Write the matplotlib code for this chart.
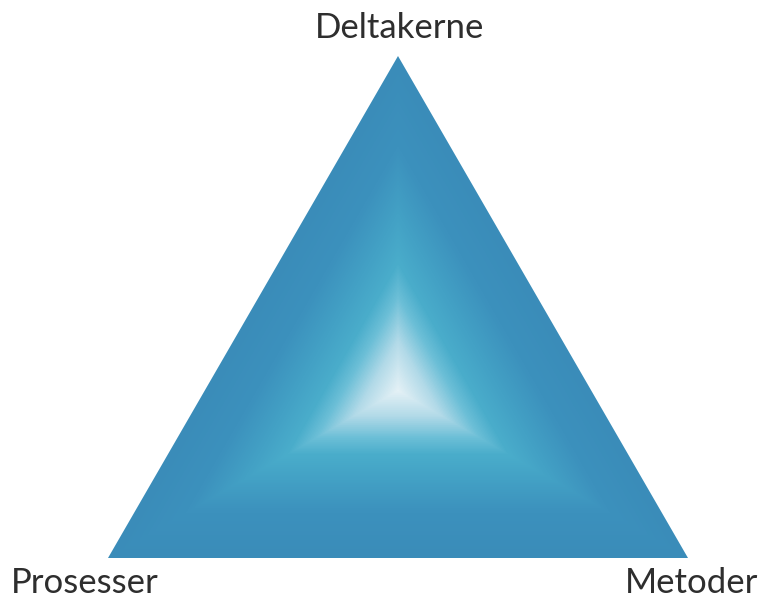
import numpy as np
import matplotlib
matplotlib.use("Agg")
import matplotlib.pyplot as plt
from matplotlib.colors import LinearSegmentedColormap
from matplotlib.patches import Polygon

# corner labels (top, bottom-left, bottom-right)
labels = ["Deltakerne", "Prosesser", "Metoder"]

# gradient stops: 0 = edge, 1 = centre
stop_pos = [0.0, 0.27, 0.47, 0.62, 0.72, 0.85, 1.0]
stop_col = ["#3a8cb9", "#3c91bd", "#43a1c5", "#4aadcb", "#6cbfd7", "#b2dae8", "#e4f1f6"]

W, H = 761, 600
corners = np.array([[398.0, 56.0], [108.0, 558.0], [688.0, 558.0]])

fig = plt.figure(figsize=(W / 100, H / 100), dpi=100)
ax = fig.add_axes([0, 0, 1, 1])
ax.set_xlim(0, W)
ax.set_ylim(H, 0)
ax.axis("off")

# barycentric coordinates on a pixel grid
xx, yy = np.meshgrid(np.arange(W) + 0.5, np.arange(H) + 0.5)
(x1, y1), (x2, y2), (x3, y3) = corners
det = (y2 - y3) * (x1 - x3) + (x3 - x2) * (y1 - y3)
l1 = ((y2 - y3) * (xx - x3) + (x3 - x2) * (yy - y3)) / det
l2 = ((y3 - y1) * (xx - x3) + (x1 - x3) * (yy - y3)) / det
l3 = 1 - l1 - l2
t = np.clip(3 * np.minimum(np.minimum(l1, l2), l3), 0, 1)

cmap = LinearSegmentedColormap.from_list("tri", list(zip(stop_pos, stop_col)))
im = ax.imshow(t, cmap=cmap, vmin=0, vmax=1, extent=(0, W, H, 0),
               interpolation="bilinear")
tri = Polygon(corners, closed=True, facecolor="none", edgecolor="none")
ax.add_patch(tri)
im.set_clip_path(tri)

font = ["Lato", "DejaVu Sans"]
ax.text(400, 28, labels[0], ha="center", va="center", fontsize=25,
        color="#2e2e2e", family=font)
ax.text(85, 583, labels[1], ha="center", va="center", fontsize=25,
        color="#2e2e2e", family=font)
ax.text(692, 583, labels[2], ha="center", va="center", fontsize=25,
        color="#2e2e2e", family=font)

fig.savefig("out.png", dpi=100)
